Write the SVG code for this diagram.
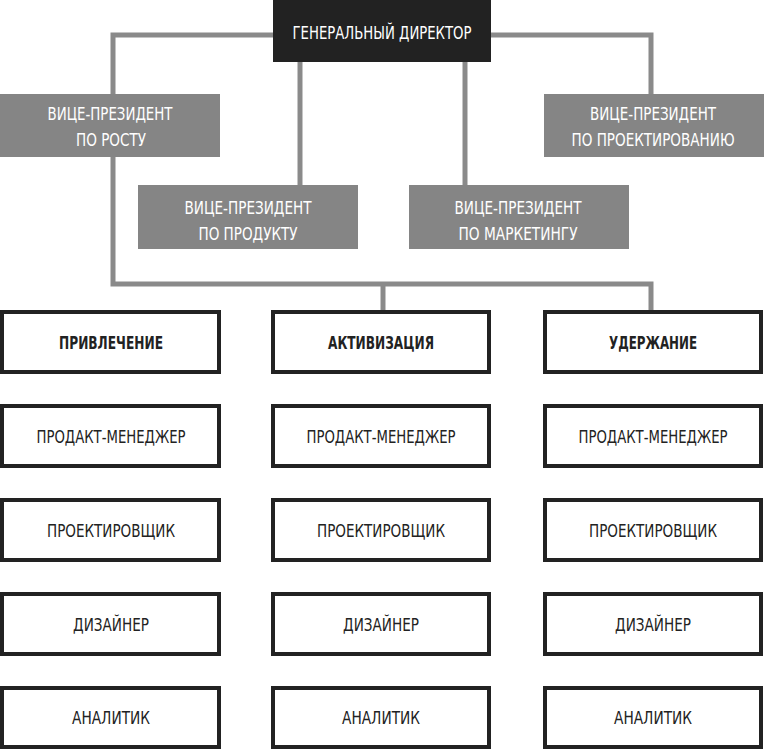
<svg xmlns="http://www.w3.org/2000/svg" width="764" height="751" viewBox="0 0 764 751">
<style>
.bg{fill:#ffffff}
.con{fill:none;stroke:#8a8a8a;stroke-width:5}
.ceo{fill:#222222}
.vp{fill:#858585}
.box{fill:#ffffff;stroke:#222222;stroke-width:4}
text{font-family:"DejaVu Sans Condensed","Liberation Sans",sans-serif;font-size:17px;text-anchor:middle}
.w{fill:#ffffff}
.d{fill:#222222}
.b{font-weight:bold}
</style>
<rect class="bg" x="0" y="0" width="764" height="751"/>
<g id="connectors">
<polyline class="con" points="113,94 113,35 651,35 651,94"/>
<line class="con" x1="300" y1="62" x2="300" y2="185"/>
<line class="con" x1="465" y1="62" x2="465" y2="185"/>
<polyline class="con" points="113,157 113,284 651,284 651,310"/>
<line class="con" x1="383" y1="284" x2="383" y2="310"/>
</g>
<g id="ceo">
<rect class="ceo" x="273" y="0" width="218" height="62"/>
<text class="w" x="382" y="38.5" textLength="179" lengthAdjust="spacingAndGlyphs">ГЕНЕРАЛЬНЫЙ ДИРЕКТОР</text>
</g>
<g id="vp-growth">
<rect class="vp" x="0" y="94" width="220" height="63"/>
<text class="w" x="110" y="119.5" textLength="125" lengthAdjust="spacingAndGlyphs">ВИЦЕ-ПРЕЗИДЕНТ</text>
<text class="w" x="111" y="145.5" textLength="70" lengthAdjust="spacingAndGlyphs">ПО РОСТУ</text>
</g>
<g id="vp-design">
<rect class="vp" x="544" y="94" width="220" height="63"/>
<text class="w" x="653" y="119.5" textLength="126" lengthAdjust="spacingAndGlyphs">ВИЦЕ-ПРЕЗИДЕНТ</text>
<text class="w" x="653" y="145.5" textLength="163" lengthAdjust="spacingAndGlyphs">ПО ПРОЕКТИРОВАНИЮ</text>
</g>
<g id="vp-product">
<rect class="vp" x="138" y="185" width="220" height="64"/>
<text class="w" x="248" y="213.5" textLength="127" lengthAdjust="spacingAndGlyphs">ВИЦЕ-ПРЕЗИДЕНТ</text>
<text class="w" x="248" y="239.5" textLength="99" lengthAdjust="spacingAndGlyphs">ПО ПРОДУКТУ</text>
</g>
<g id="vp-marketing">
<rect class="vp" x="409" y="185" width="220" height="64"/>
<text class="w" x="518" y="213.5" textLength="127" lengthAdjust="spacingAndGlyphs">ВИЦЕ-ПРЕЗИДЕНТ</text>
<text class="w" x="518" y="239.5" textLength="119" lengthAdjust="spacingAndGlyphs">ПО МАРКЕТИНГУ</text>
</g>
<g id="acq">
<rect class="box" x="2" y="312" width="217" height="60"/>
<text class="d b" x="111" y="348.5" textLength="104" lengthAdjust="spacingAndGlyphs">ПРИВЛЕЧЕНИЕ</text>
</g>
<g id="act">
<rect class="box" x="273" y="312" width="216" height="60"/>
<text class="d b" x="381" y="348.5" textLength="106" lengthAdjust="spacingAndGlyphs">АКТИВИЗАЦИЯ</text>
</g>
<g id="ret">
<rect class="box" x="545" y="312" width="216" height="60"/>
<text class="d b" x="653" y="348.5" textLength="88" lengthAdjust="spacingAndGlyphs">УДЕРЖАНИЕ</text>
</g>
<g id="pm1"><rect class="box" x="2" y="406" width="217" height="60"/><text class="d" x="111" y="442.5" textLength="149" lengthAdjust="spacingAndGlyphs">ПРОДАКТ-МЕНЕДЖЕР</text></g>
<g id="pm2"><rect class="box" x="273" y="406" width="216" height="60"/><text class="d" x="381" y="442.5" textLength="149" lengthAdjust="spacingAndGlyphs">ПРОДАКТ-МЕНЕДЖЕР</text></g>
<g id="pm3"><rect class="box" x="545" y="406" width="216" height="60"/><text class="d" x="653" y="442.5" textLength="149" lengthAdjust="spacingAndGlyphs">ПРОДАКТ-МЕНЕДЖЕР</text></g>
<g id="ux1"><rect class="box" x="2" y="500" width="217" height="60"/><text class="d" x="111" y="536.5" textLength="128" lengthAdjust="spacingAndGlyphs">ПРОЕКТИРОВЩИК</text></g>
<g id="ux2"><rect class="box" x="273" y="500" width="216" height="60"/><text class="d" x="381" y="536.5" textLength="128" lengthAdjust="spacingAndGlyphs">ПРОЕКТИРОВЩИК</text></g>
<g id="ux3"><rect class="box" x="545" y="500" width="216" height="60"/><text class="d" x="653" y="536.5" textLength="128" lengthAdjust="spacingAndGlyphs">ПРОЕКТИРОВЩИК</text></g>
<g id="des1"><rect class="box" x="2" y="594" width="217" height="60"/><text class="d" x="111" y="630.5" textLength="76" lengthAdjust="spacingAndGlyphs">ДИЗАЙНЕР</text></g>
<g id="des2"><rect class="box" x="273" y="594" width="216" height="60"/><text class="d" x="381" y="630.5" textLength="76" lengthAdjust="spacingAndGlyphs">ДИЗАЙНЕР</text></g>
<g id="des3"><rect class="box" x="545" y="594" width="216" height="60"/><text class="d" x="653" y="630.5" textLength="76" lengthAdjust="spacingAndGlyphs">ДИЗАЙНЕР</text></g>
<g id="an1"><rect class="box" x="2" y="688" width="217" height="59"/><text class="d" x="111" y="723.5" textLength="78" lengthAdjust="spacingAndGlyphs">АНАЛИТИК</text></g>
<g id="an2"><rect class="box" x="273" y="688" width="216" height="59"/><text class="d" x="381" y="723.5" textLength="78" lengthAdjust="spacingAndGlyphs">АНАЛИТИК</text></g>
<g id="an3"><rect class="box" x="545" y="688" width="216" height="59"/><text class="d" x="653" y="723.5" textLength="78" lengthAdjust="spacingAndGlyphs">АНАЛИТИК</text></g>
</svg>
